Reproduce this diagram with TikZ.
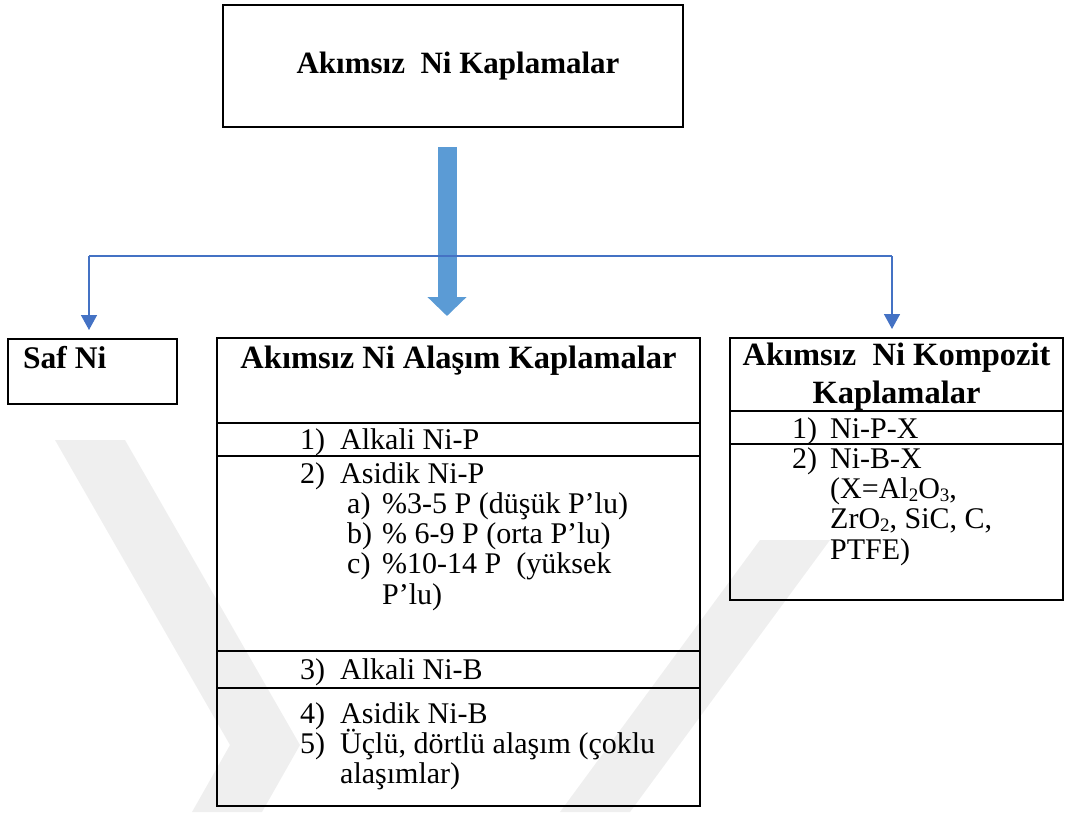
\documentclass[tikz,border=0pt]{standalone}
\usepackage{fontspec}
\setmainfont{Liberation Serif}
\usetikzlibrary{arrows.meta}
\definecolor{lineblue}{HTML}{4472C4}
\definecolor{bigblue}{HTML}{5B9BD5}
\definecolor{wmgrey}{HTML}{EFEFEF}
\newcommand\mysub[1]{\raisebox{-3pt}{\fontsize{19}{19}\selectfont #1}}
\begin{document}
\begin{tikzpicture}[x=1pt,y=-1pt,
  box/.style={draw=black,line width=2pt,inner sep=0pt},
  rowline/.style={draw=black,line width=2pt},
  wm/.style={fill=wmgrey},
  ttl/.style={font=\fontsize{32.5}{38}\selectfont\bfseries,anchor=base,inner sep=0pt},
  ttlw/.style={font=\fontsize{31.5}{38}\selectfont\bfseries,anchor=base west,inner sep=0pt},
  txt/.style={font=\fontsize{30}{30}\selectfont,anchor=base west,inner sep=0pt},
  conn/.style={draw=lineblue,line width=1.5pt,-{Triangle[length=15pt,width=16pt]}},
  bigarrow/.style={draw=bigblue,line width=19pt,-{Triangle[length=19pt,width=38pt]}}
]
\useasboundingbox (0,0) rectangle (1065,812);

% faint watermark
\fill[wm] (55,440) -- (125,440) -- (300,745) -- (262,812) -- (192,812) -- (230,745) -- cycle;
\fill[wm] (560,812) -- (630,812) -- (830,540) -- (760,540) -- cycle;

% boxes
\node[box,minimum width=460pt,minimum height=122pt] (top) at (453,66) {};
\node[box,minimum width=169pt,minimum height=65pt] (saf) at (92.5,371.5) {};
\node[box,minimum width=483pt,minimum height=468pt] (mid) at (458.5,572) {};
\node[box,minimum width=333pt,minimum height=262pt] (comp) at (896.5,469) {};

% row lines
\draw[rowline] (mid.west |- 0,423) -- (mid.east |- 0,423);
\draw[rowline] (mid.west |- 0,456) -- (mid.east |- 0,456);
\draw[rowline] (mid.west |- 0,651) -- (mid.east |- 0,651);
\draw[rowline] (mid.west |- 0,688) -- (mid.east |- 0,688);
\draw[rowline] (comp.west |- 0,411) -- (comp.east |- 0,411);
\draw[rowline] (comp.west |- 0,444) -- (comp.east |- 0,444);

% arrows
\coordinate (bigstart) at (447,147);
\coordinate (bigend) at (447,316);
\draw[bigarrow] (bigstart) -- (bigend);
\coordinate (hl) at (89,256);
\coordinate (hr) at (892,256);
\draw[draw=lineblue,line width=1.5pt] (hl) -- (hr);
\draw[conn,shorten >=8pt] (hl) -- (hl |- saf.north);
\draw[conn,shorten >=8pt] (hr) -- (hr |- comp.north);

% titles
\node[ttl,font=\fontsize{31}{38}\selectfont\bfseries] (ttop) at (458,73) {Akımsız\ \ Ni Kaplamalar};
\node[ttlw] (tsaf) at (23,368.5) {Saf Ni};
\node[ttl] (tmid) at (458.5,368.5) {Akımsız Ni Alaşım Kaplamalar};
\node[ttl] (tcomp1) at (896.5,365.5) {Akımsız\ \ Ni Kompozit};
\node[ttl] (tcomp2) at (896.5,403.5) {Kaplamalar};

% middle list
\node[txt] (n1) at (300,449) {1)};
\node[txt] (l1) at (340,449) {Alkali Ni-P};
\node[txt] (n2) at (300,483) {2)};
\node[txt] (l2) at (340,483) {Asidik Ni-P};
\node[txt] (na) at (347,513) {a)};
\node[txt] (la) at (382,513) {\%3-5 P (düşük P’lu)};
\node[txt] (nb) at (347,543) {b)};
\node[txt] (lb) at (382,543) {\% 6-9 P (orta P’lu)};
\node[txt] (nc) at (347,573) {c)};
\node[txt] (lc) at (382,573) {\%10-14 P\ \ (yüksek};
\node[txt] (lc2) at (382,604) {P’lu)};
\node[txt] (n3) at (300,679) {3)};
\node[txt] (l3) at (340,679) {Alkali Ni-B};
\node[txt] (n4) at (300,723) {4)};
\node[txt] (l4) at (340,723) {Asidik Ni-B};
\node[txt] (n5) at (300,753) {5)};
\node[txt] (l5) at (340,753) {Üçlü, dörtlü alaşım (çoklu};
\node[txt] (l5b) at (340,783) {alaşımlar)};

% composite list
\node[txt] (c1n) at (792,438) {1)};
\node[txt] (c1) at (830,438) {Ni-P-X};
\node[txt] (c2n) at (792,468) {2)};
\node[txt] (c2) at (830,468) {Ni-B-X};
\node[txt] (c2a) at (830,498) {(X=Al\mysub{2}O\mysub{3},};
\node[txt] (c2b) at (830,528) {ZrO\mysub{2}, SiC, C,};
\node[txt] (c2c) at (830,559) {PTFE)};
\end{tikzpicture}
\end{document}
